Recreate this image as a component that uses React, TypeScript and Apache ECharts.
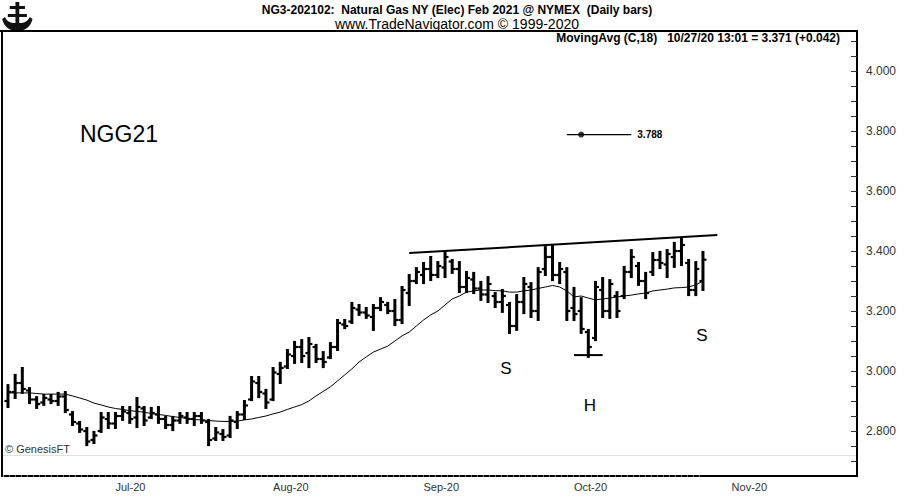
import React, { useEffect, useRef } from "react";
import * as echarts from "echarts";

// ---- categories (trading days) ----
const junDays = [10, 11, 12, 15, 16, 17, 18, 19, 22, 23, 24, 25, 26, 29, 30];
const julDays = [1, 2, 6, 7, 8, 9, 10, 13, 14, 15, 16, 17, 20, 21, 22, 23, 24, 27, 28, 29, 30, 31];
const augDays = [3, 4, 5, 6, 7, 10, 11, 12, 13, 14, 17, 18, 19, 20, 21, 24, 25, 26, 27, 28, 31];
const sepDays = [1, 2, 3, 4, 8, 9, 10, 11, 14, 15, 16, 17, 18, 21, 22, 23, 24, 25, 28, 29, 30];
const octDays = [1, 2, 5, 6, 7, 8, 9, 12, 13, 14, 15, 16, 19, 20, 21, 22, 23, 26, 27, 28, 29, 30];
const novDays = [2, 3, 4, 5, 6, 9, 10, 11, 12, 13, 16, 17, 18, 19, 20, 23, 24, 25];
const monthNames = ["Jun", "Jul", "Aug", "Sep", "Oct", "Nov"];

// ---- OHLC values ----
const highs = [
  2.953, 2.987, 3.010, 2.943, 2.913, 2.920, 2.920, 2.927, 2.930, 2.863,
  2.830, 2.810, 2.797, 2.860, 2.860, 2.860, 2.880, 2.880, 2.910, 2.880,
  2.877, 2.880, 2.847, 2.847, 2.860, 2.860, 2.860, 2.860, 2.837, 2.810,
  2.803, 2.847, 2.863, 2.900, 2.980, 2.980, 2.937, 3.010, 3.027, 3.070,
  3.097, 3.103, 3.110, 3.087, 3.063, 3.093, 3.170, 3.170, 3.227, 3.220,
  3.210, 3.220, 3.243, 3.227, 3.237, 3.280, 3.320, 3.343, 3.360, 3.380,
  3.363, 3.397, 3.370, 3.363, 3.330, 3.327, 3.297, 3.313, 3.260, 3.270,
  3.227, 3.253, 3.310, 3.293, 3.343, 3.413, 3.420, 3.360, 3.343, 3.277,
  3.243, 3.137, 3.297, 3.310, 3.303, 3.263, 3.347, 3.403, 3.360, 3.327,
  3.393, 3.397, 3.403, 3.427, 3.443, 3.370, 3.363, 3.397,
];
const lows = [
  2.880, 2.910, 2.927, 2.893, 2.877, 2.887, 2.893, 2.887, 2.863, 2.820,
  2.797, 2.753, 2.760, 2.797, 2.810, 2.810, 2.837, 2.827, 2.813, 2.820,
  2.843, 2.827, 2.810, 2.803, 2.827, 2.827, 2.820, 2.827, 2.753, 2.770,
  2.770, 2.780, 2.810, 2.840, 2.903, 2.913, 2.877, 2.903, 2.960, 3.010,
  3.027, 3.030, 3.013, 3.030, 3.013, 3.043, 3.070, 3.143, 3.160, 3.187,
  3.177, 3.137, 3.203, 3.193, 3.153, 3.160, 3.220, 3.293, 3.293, 3.303,
  3.313, 3.313, 3.327, 3.263, 3.263, 3.260, 3.237, 3.230, 3.213, 3.197,
  3.127, 3.137, 3.193, 3.180, 3.170, 3.320, 3.303, 3.293, 3.170, 3.170,
  3.127, 3.047, 3.103, 3.180, 3.177, 3.180, 3.243, 3.313, 3.287, 3.243,
  3.320, 3.343, 3.313, 3.347, 3.353, 3.253, 3.253, 3.270,
];
const opens = [
  2.900, 2.930, 2.960, 2.935, 2.905, 2.895, 2.905, 2.900, 2.915, 2.855,
  2.825, 2.800, 2.770, 2.800, 2.840, 2.825, 2.850, 2.860, 2.845, 2.875,
  2.845, 2.855, 2.840, 2.820, 2.835, 2.845, 2.840, 2.850, 2.830, 2.775,
  2.790, 2.785, 2.830, 2.855, 2.905, 2.960, 2.925, 2.905, 2.990, 3.015,
  3.050, 3.080, 3.060, 3.080, 3.040, 3.045, 3.080, 3.155, 3.165, 3.205,
  3.195, 3.180, 3.210, 3.220, 3.200, 3.170, 3.260, 3.300, 3.320, 3.340,
  3.320, 3.345, 3.365, 3.340, 3.280, 3.305, 3.275, 3.255, 3.250, 3.230,
  3.220, 3.150, 3.230, 3.280, 3.200, 3.340, 3.380, 3.320, 3.330, 3.210,
  3.200, 3.130, 3.110, 3.270, 3.200, 3.250, 3.250, 3.330, 3.350, 3.300,
  3.330, 3.370, 3.355, 3.380, 3.400, 3.360, 3.270, 3.300,
];
const closes = [
  2.930, 2.960, 2.940, 2.905, 2.890, 2.910, 2.900, 2.915, 2.870, 2.830,
  2.805, 2.765, 2.785, 2.845, 2.825, 2.850, 2.865, 2.840, 2.880, 2.835,
  2.860, 2.840, 2.820, 2.835, 2.850, 2.840, 2.850, 2.835, 2.770, 2.795,
  2.780, 2.835, 2.855, 2.885, 2.965, 2.930, 2.895, 2.995, 3.010, 3.055,
  3.080, 3.050, 3.090, 3.040, 3.030, 3.080, 3.160, 3.150, 3.210, 3.195,
  3.185, 3.210, 3.230, 3.200, 3.170, 3.270, 3.300, 3.330, 3.340, 3.320,
  3.350, 3.380, 3.340, 3.280, 3.310, 3.275, 3.255, 3.290, 3.230, 3.250,
  3.150, 3.230, 3.290, 3.200, 3.330, 3.380, 3.320, 3.340, 3.200, 3.190,
  3.140, 3.080, 3.280, 3.200, 3.290, 3.200, 3.330, 3.380, 3.300, 3.260,
  3.370, 3.360, 3.390, 3.400, 3.420, 3.270, 3.340, 3.371,
];
// 18-day moving average as drawn
const movingAvg = [
  2.927, 2.927, 2.927, 2.927, 2.925, 2.923, 2.923, 2.923, 2.923, 2.917,
  2.910, 2.903, 2.893, 2.887, 2.880, 2.875, 2.872, 2.868, 2.865, 2.863,
  2.858, 2.855, 2.852, 2.848, 2.845, 2.842, 2.838, 2.837, 2.835, 2.833,
  2.832, 2.832, 2.833, 2.837, 2.840, 2.845, 2.850, 2.857, 2.863, 2.872,
  2.880, 2.888, 2.900, 2.917, 2.932, 2.947, 2.967, 2.987, 3.007, 3.030,
  3.047, 3.063, 3.073, 3.083, 3.100, 3.117, 3.130, 3.150, 3.170, 3.187,
  3.200, 3.220, 3.240, 3.250, 3.263, 3.267, 3.270, 3.270, 3.268, 3.267,
  3.263, 3.263, 3.267, 3.270, 3.275, 3.280, 3.285, 3.280, 3.267, 3.247,
  3.250, 3.243, 3.237, 3.240, 3.243, 3.247, 3.250, 3.253, 3.257, 3.260,
  3.267, 3.270, 3.273, 3.277, 3.278, 3.280, 3.287, 3.300,
];

// annotations (category index, price)
const trendLine = [[56, 3.393], [99, 3.453]];
const headLine = [[79, 3.053], [83, 3.053]];
const targetPrice = 3.788;
const targetLine = [[78, targetPrice], [87, targetPrice]];
const targetDot = [[80, targetPrice]];
const yTickLabels = [2.8, 3.0, 3.2, 3.4, 3.6, 3.8, 4.0];

const NARROW = "'Liberation Sans Narrow', 'Arial Narrow', 'Liberation Sans', sans-serif";
const SANS = "'Liberation Sans', Arial, sans-serif";

function buildDates() {
  const months = [junDays, julDays, augDays, sepDays, octDays, novDays];
  const out: { key: string; month: number }[] = [];
  months.forEach((days, m) => {
    days.forEach((d) => {
      out.push({ key: `2020-${String(m + 6).padStart(2, "0")}-${String(d).padStart(2, "0")}`, month: m });
    });
  });
  return out;
}

export default function App() {
  const ref = useRef<HTMLDivElement>(null);
  useEffect(() => {
    if (!ref.current) return;
    echarts.graphic.registerShape(
      "logo",
      echarts.graphic.extendPath(
        "M11 0 L15 0 L15 4 L21 4 L21 7 L15 7 L15 12 L23 12 L23 15 L15 15 L15 21 C21 21 24 19 26 15 L29 17 C27 25 21 29 13 29 C5 29 -1 25 -3 17 L0 15 C2 19 5 21 11 21 L11 15 L3 15 L3 12 L11 12 L11 7 L5 7 L5 4 L11 4 Z",
        {}
      )
    );
    const chart = echarts.init(ref.current, null, { renderer: "svg" });
    const dates = buildDates();
    const cats = dates.map((d) => d.key);
    const monthStart = new Set<number>();
    dates.forEach((d, i) => {
      if (i > 0 && dates[i - 1].month !== d.month) monthStart.add(i);
    });
    const ohlc = closes.map((c, i) => [i, opens[i], c, lows[i], highs[i]]);
    const maData = movingAvg.map((v, i) => [i, v]);
    const lastClose = closes[closes.length - 1];
    const lastMa = movingAvg[movingAvg.length - 1];
    const yLabelSet = new Set(yTickLabels.map((v) => v.toFixed(3)));

    const option: any = {
      animation: false,
      backgroundColor: "#fff",
      grid: { left: 4.4, right: 57, top: 31, bottom: 21 },
      xAxis: {
        type: "category",
        data: cats,
        boundaryGap: true,
        axisLine: { show: true, lineStyle: { color: "#000", width: 2, type: [4, 2] } },
        axisTick: { show: false },
        splitLine: { show: false },
        axisLabel: {
          interval: (index: number) => monthStart.has(index),
          formatter: (v: string) => monthNames[Number(v.slice(5, 7)) - 6] + "-20",
          align: "left",
          margin: 5,
          color: "#333",
          fontSize: 11,
          fontFamily: SANS,
        },
      },
      yAxis: {
        type: "value",
        position: "right",
        min: 2.65,
        max: 4.1333,
        interval: 0.05,
        scale: true,
        axisLine: { show: true, lineStyle: { color: "#000", width: 2 } },
        axisTick: { show: true, inside: true, length: 6, lineStyle: { color: "#333", width: 1 } },
        splitLine: { show: false },
        axisLabel: {
          margin: 9,
          color: "#333",
          fontSize: 12,
          fontFamily: SANS,
          showMaxLabel: false,
          showMinLabel: false,
          formatter: (v: number) => (yLabelSet.has(v.toFixed(3)) && Math.abs(v * 20 - Math.round(v * 20)) < 1e-6 ? v.toFixed(3) : ""),
        },
      },
      series: [
        {
          type: "line",
          data: maData,
          symbol: "none",
          lineStyle: { color: "#000", width: 1 },
          z: 2,
          markLine: {
            silent: true,
            symbol: ["none", "none"],
            lineStyle: { opacity: 0, width: 0 },
            label: {
              position: "end",
              distance: 1,
              color: "#fff",
              backgroundColor: "#000",
              padding: [0, 2, 0, 2],
              lineHeight: 13,
              fontSize: 12,
              fontFamily: SANS,
              formatter: (p: any) => Number(p.value).toFixed(3),
            },
            data: [{ yAxis: lastClose }, { yAxis: lastMa }],
          },
        },
        {
          type: "custom",
          data: ohlc,
          encode: { x: 0, y: [1, 2, 3, 4] },
          z: 3,
          renderItem: (params: any, api: any) => {
            const i = api.value(0);
            const o = api.coord([i, api.value(1)]);
            const c = api.coord([i, api.value(2)]);
            const l = api.coord([i, api.value(3)]);
            const h = api.coord([i, api.value(4)]);
            const x = h[0];
            return {
              type: "group",
              children: [
                { type: "line", shape: { x1: x, y1: h[1] - 1, x2: x, y2: l[1] + 1 }, style: { stroke: "#000", lineWidth: 3 } },
                { type: "line", shape: { x1: x - 3.5, y1: o[1], x2: x, y2: o[1] }, style: { stroke: "#000", lineWidth: 2.2 } },
                { type: "line", shape: { x1: x, y1: c[1], x2: x + 3.5, y2: c[1] }, style: { stroke: "#000", lineWidth: 2.2 } },
              ],
            };
          },
        },
        {
          type: "line",
          data: trendLine,
          symbol: "none",
          lineStyle: { color: "#000", width: 2 },
          z: 4,
        },
        {
          type: "line",
          data: headLine,
          symbol: "none",
          lineStyle: { color: "#000", width: 2 },
          z: 4,
        },
        {
          type: "line",
          data: targetLine,
          symbol: "none",
          lineStyle: { color: "#000", width: 1.2 },
          z: 4,
          endLabel: {
            show: true,
            formatter: () => targetPrice.toFixed(3),
            distance: 6,
            fontSize: 10,
            fontWeight: "bold",
            fontFamily: SANS,
            color: "#000",
          },
        },
        {
          type: "scatter",
          data: targetDot,
          symbol: "circle",
          symbolSize: 6,
          itemStyle: { color: "#000" },
          z: 5,
        },
      ],
      graphic: [
        { type: "logo", x: 5, y: 2, scaleX: 0.95, scaleY: 1.0, style: { fill: "#111" } },
        {
          type: "text",
          x: 457,
          y: 10,
          style: {
            text: "NG3-202102:  Natural Gas NY (Elec) Feb 2021 @ NYMEX  (Daily bars)",
            fontFamily: NARROW,
            fontWeight: "bold",
            fontSize: 12,
            fill: "#000",
            textAlign: "center",
            textVerticalAlign: "middle",
          },
        },
        {
          type: "text",
          x: 457,
          y: 24,
          style: {
            text: "www.TradeNavigator.com © 1999-2020",
            fontFamily: NARROW,
            fontSize: 14,
            fill: "#000",
            textAlign: "center",
            textVerticalAlign: "middle",
          },
        },
        { type: "line", shape: { x1: 0, y1: 31, x2: 858, y2: 31 }, style: { stroke: "#000", lineWidth: 2 } },
        { type: "line", shape: { x1: 2, y1: 31, x2: 2, y2: 477 }, style: { stroke: "#000", lineWidth: 2 } },
        { type: "line", shape: { x1: 703, y1: 476, x2: 858, y2: 476 }, style: { stroke: "#000", lineWidth: 2 } },
        { type: "line", shape: { x1: 3, y1: 455.5, x2: 856, y2: 455.5 }, style: { stroke: "#e2e2e2", lineWidth: 1 } },
        {
          type: "text",
          x: 840,
          y: 38,
          style: {
            text: "MovingAvg (C,18)   10/27/20 13:01 = 3.371 (+0.042)",
            fontFamily: NARROW,
            fontWeight: "bold",
            fontSize: 12,
            fill: "#000",
            textAlign: "right",
            textVerticalAlign: "middle",
          },
        },
        {
          type: "text",
          x: 80,
          y: 134,
          style: { text: "NGG21", fontFamily: SANS, fontSize: 23, fill: "#000", textAlign: "left", textVerticalAlign: "middle" },
        },
        {
          type: "text",
          x: 506,
          y: 368,
          style: { text: "S", fontFamily: SANS, fontSize: 17, fill: "#000", textAlign: "center", textVerticalAlign: "middle" },
        },
        {
          type: "text",
          x: 590,
          y: 405,
          style: { text: "H", fontFamily: SANS, fontSize: 17, fill: "#000", textAlign: "center", textVerticalAlign: "middle" },
        },
        {
          type: "text",
          x: 702,
          y: 335,
          style: { text: "S", fontFamily: SANS, fontSize: 17, fill: "#000", textAlign: "center", textVerticalAlign: "middle" },
        },
        {
          type: "text",
          x: 5,
          y: 449,
          style: { text: "© GenesisFT", fontFamily: SANS, fontSize: 11, fill: "#333", textAlign: "left", textVerticalAlign: "middle" },
        },
      ],
    };
    chart.setOption(option);
    return () => chart.dispose();
  }, []);
  return (
    <div
      ref={ref}
      style={{ position: "fixed", left: 0, top: 0, width: 914, height: 497, background: "#fff" }}
    />
  );
}
